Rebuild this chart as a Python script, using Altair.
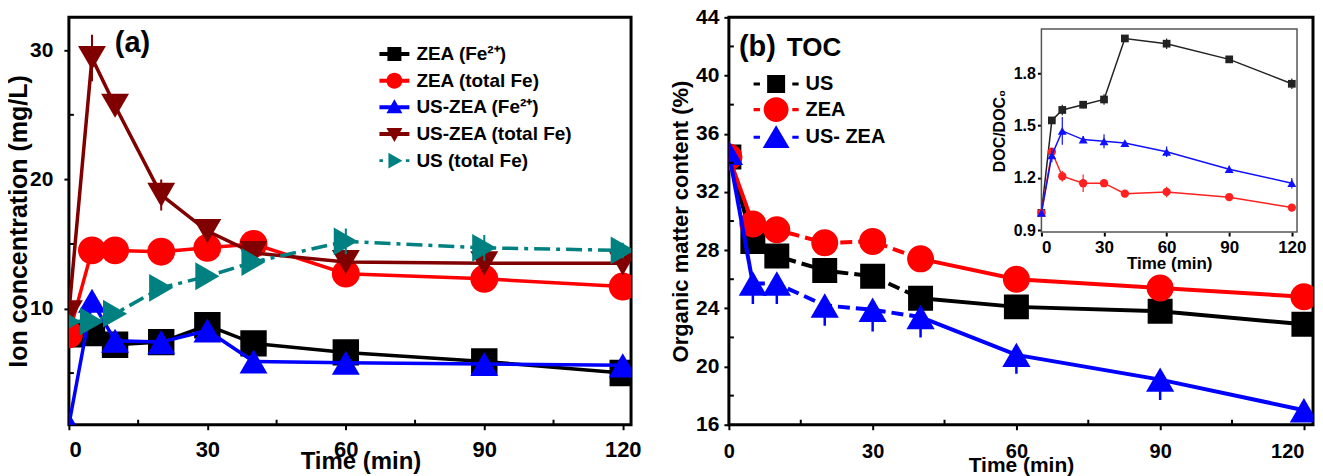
import altair as alt
import pandas as pd

FONT = "Liberation Sans"

# ---------------- shared time axis ----------------
TIME = [0, 5, 10, 20, 30, 40, 60, 90, 120]
TICKS_T = [0, 30, 60, 90, 120]
MINOR_T = [15, 45, 75, 105]

# ---------------- panel (a) ----------------
A_SERIES = ["ZEA (Fe²⁺)", "ZEA (total Fe)", "US-ZEA (Fe²⁺)", "US-ZEA (total Fe)", "US (total Fe)"]
A_COLORS = ["#000000", "#ff0000", "#0000ff", "#800000", "#008080"]
A_SHAPES = ["square", "circle", "triangle-up", "triangle-down", "triangle-right"]
A_ZEA_FE2 = [8.0, 8.1, 7.2, 7.4, 8.7, 7.3, 6.6, 5.9, 5.0]
A_ZEA_TOT = [8.0, 14.5, 14.5, 14.4, 14.7, 15.0, 12.7, 12.3, 11.7]
A_USZEA_FE2 = [1.0, 10.6, 7.5, 7.4, 8.3, 5.9, 5.8, 5.7, 5.6]
A_USZEA_TOT = [9.7, 29.4, 25.7, 18.8, 16.0, 14.3, 13.6, 13.5, 13.5]
A_US_TOT = [9.0, 9.0, 9.6, 11.6, 12.5, 13.6, 15.2, 14.7, 14.5]
A_ERR_ZEA_FE2 = [0, 0, 0, 0, 0, 0, 0, 0, 0]
A_ERR_ZEA_TOT = [0, 0, 0, 0, 0, 0, 0, 0, 0]
A_ERR_USZEA_FE2 = [0, 0, 0, 0, 0, 0, 0, 0, 0]
A_ERR_USZEA_TOT = [0, 1.8, 0.8, 1.2, 0.8, 0.4, 0.4, 0.4, 0.4]
A_ERR_US_TOT = [0, 0, 0, 0, 0, 0, 1.0, 1.0, 0.6]
A_TICKS_Y = [10, 20, 30]
A_MINOR_Y = [5, 15, 25]
A_LEGEND_PATHS = [
    "M-1.5,-0.2H1.5V0.2H-1.5Z M-0.7,-0.7H0.7V0.7H-0.7Z",
    "M-1.5,-0.2H1.5V0.2H-1.5Z M-0.8,0A0.8,0.8 0 1,1 0.8,0A0.8,0.8 0 1,1 -0.8,0Z",
    "M-1.5,-0.2H1.5V0.2H-1.5Z M0,-0.8L0.8,0.6L-0.8,0.6Z",
    "M-1.5,-0.2H1.5V0.2H-1.5Z M-0.8,-0.6H0.8L0,0.8Z",
    "M-1.5,-0.15H-1.15V0.15H-1.5Z M1.15,-0.15H1.5V0.15H1.15Z M-0.6,-0.8L0.8,0L-0.6,0.8Z",
]

# ---------------- panel (b) ----------------
B_SERIES = ["US", "ZEA", "US- ZEA"]
B_COLORS = ["#000000", "#ff0000", "#0000ff"]
B_SHAPES = ["square", "circle", "triangle-up"]
B_US = [34.4, 28.6, 27.6, 26.6, 26.2, 24.7, 24.1, 23.8, 22.9]
B_ZEA = [34.4, 29.8, 29.4, 28.5, 28.6, 27.4, 26.0, 25.4, 24.8]
B_USZEA = [34.7, 25.7, 25.7, 24.2, 23.9, 23.4, 20.8, 19.1, 17.0]
# lower error bars (the upper half is hidden under the markers)
B_ERR_US = [0, 0, 0, 0, 0, 0, 0, 0, 0]
B_ERR_ZEA = [0, 0, 0, 0, 0, 0, 0, 0, 0]
B_ERR_USZEA = [0, 1.4, 1.4, 1.4, 1.5, 1.4, 1.3, 1.4, 0]
B_TICKS_Y = [16, 20, 24, 28, 32, 36, 40, 44]
B_MINOR_Y = [18, 22, 26, 30, 34, 38, 42]
B_LEGEND_PATHS = [
    "M-1.88,-0.13H-1.35V0.13H-1.88Z M1.35,-0.13H1.88V0.13H1.35Z M-0.75,-0.75H0.75V0.75H-0.75Z",
    "M-1.88,-0.13H-1.35V0.13H-1.88Z M1.35,-0.13H1.88V0.13H1.35Z M-1.04,0A1.04,1.04 0 1,1 1.04,0A1.04,1.04 0 1,1 -1.04,0Z",
    "M-1.88,-0.13H-1.35V0.13H-1.88Z M1.35,-0.13H1.88V0.13H1.35Z M0,-1.0L1.12,0.9L-1.12,0.9Z",
]

# ---------------- inset (DOC/DOC0) ----------------
I_US = [1.0, 1.53, 1.59, 1.62, 1.65, 2.0, 1.97, 1.88, 1.74]
I_ZEA = [1.0, 1.35, 1.21, 1.17, 1.17, 1.11, 1.12, 1.09, 1.03]
I_USZEA = [1.0, 1.33, 1.47, 1.42, 1.41, 1.40, 1.35, 1.25, 1.17]
I_ERR_US = [0, 0.02, 0.03, 0.02, 0.03, 0.02, 0.03, 0.02, 0.03]
I_ERR_ZEA = [0, 0.02, 0.03, 0.05, 0.02, 0.02, 0.03, 0.01, 0.01]
I_ERR_USZEA = [0, 0.04, 0.08, 0.02, 0.04, 0.01, 0.03, 0.02, 0.03]
I_COLORS = ["#222222", "#ff2020", "#1010ff"]
I_TICKS_Y = [0.9, 1.2, 1.5, 1.8]
I_XDOM = [0, 122.5]
I_YDOM = [0.89, 2.054]

PANEL_LABELS = ["(a)", "(b)", "TOC"]

W_A, W_B, H = 563, 585, 408
I_X0, I_X1, I_Y0, I_Y1 = 313, 569, 215, 11.7   # inset placement inside panel (b), px


def long_df(series_vals, series_errs, upper=True):
    rows = []
    for k, (vals, errs) in enumerate(zip(series_vals, series_errs)):
        for t, v, e in zip(TIME, vals, errs):
            rows.append({"t": t, "v": v, "err": e, "lo": v - e, "hi": v + e if upper else v, "k": k})
    return pd.DataFrame(rows)


df_a = long_df([A_ZEA_FE2, A_ZEA_TOT, A_USZEA_FE2, A_USZEA_TOT, A_US_TOT],
               [A_ERR_ZEA_FE2, A_ERR_ZEA_TOT, A_ERR_USZEA_FE2, A_ERR_USZEA_TOT, A_ERR_US_TOT])
df_b = long_df([B_US, B_ZEA, B_USZEA], [B_ERR_US, B_ERR_ZEA, B_ERR_USZEA], upper=False)
df_i = long_df([I_US, I_ZEA, I_USZEA], [I_ERR_US, I_ERR_ZEA, I_ERR_USZEA])

# ================= panel (a) =================
xs_a = alt.Scale(domain=[0, 121.8], nice=False, zero=False)
ys_a = alt.Scale(domain=[1, 32.55], nice=False, zero=False)
ax_xa = alt.Axis(values=TICKS_T, title="Time (min)", labelFontSize=22, titleFontSize=24,
                 labelPadding=10, titleY=25, titleX=292, titleAlign="center", titleBaseline="top")
ax_ya = alt.Axis(values=A_TICKS_Y, title="Ion concentration (mg/L)", labelFontSize=21,
                 titleFontSize=25, labelPadding=11, titleX=-50, titleY=H / 2, titleAngle=270,
                 titleAlign="center", titleBaseline="middle")
x_a = alt.X("t:Q", scale=xs_a, axis=ax_xa)
y_a = alt.Y("v:Q", scale=ys_a, axis=ax_ya)
ylo_a = alt.Y("lo:Q", scale=ys_a, axis=ax_ya)

layers_a = []
for k, (col, shp) in enumerate(zip(A_COLORS, A_SHAPES)):
    base = alt.Chart(df_a).transform_filter(alt.FieldEqualPredicate(field="k", equal=k))
    line_kw = dict(color=col, strokeWidth=3.5, clip=True)
    if k == 4:
        line_kw["strokeDash"] = [16, 6, 4, 6]
    layers_a.append(base.mark_line(**line_kw).encode(x=x_a, y=y_a))
    layers_a.append(
        base.transform_filter("datum.err > 0").mark_rule(color=col, strokeWidth=2, clip=True)
        .encode(x=x_a, y=ylo_a, y2="hi:Q"))
    size = 780 if shp != "square" else 700
    layers_a.append(base.mark_point(shape=shp, filled=True, size=size, color=col,
                                    opacity=1, clip=True).encode(x=x_a, y=y_a))

# minor inward ticks
layers_a.append(alt.Chart(pd.DataFrame({"t": MINOR_T})).mark_rule(color="black", strokeWidth=2)
                .encode(x=x_a, y=alt.value(H), y2=alt.value(H - 5)))
layers_a.append(alt.Chart(pd.DataFrame({"v": A_MINOR_Y})).mark_rule(color="black", strokeWidth=2)
                .encode(y=y_a, x=alt.value(0), x2=alt.value(5)))

leg_a = alt.Legend(title=None, orient="none", legendX=316, legendY=26.7, symbolSize=400,
                   labelFontSize=19, labelFont=FONT, labelFontWeight="bold", labelColor="black",
                   labelOffset=12, rowPadding=6.7, padding=0, symbolStrokeWidth=0,
                   symbolOpacity=1, labelLimit=400)
layers_a.append(
    alt.Chart(df_a).transform_filter("false").mark_point(filled=True).encode(
        fill=alt.Fill("ser:N", scale=alt.Scale(domain=A_SERIES, range=A_COLORS), legend=leg_a),
        shape=alt.Shape("ser:N", scale=alt.Scale(domain=A_SERIES, range=A_LEGEND_PATHS), legend=leg_a),
    ))
layers_a.append(
    alt.Chart(pd.DataFrame({"label": [PANEL_LABELS[0]]})).mark_text(
        font=FONT, fontSize=29, fontWeight="bold", align="left", baseline="alphabetic", color="black")
    .encode(text="label:N", x=alt.value(46), y=alt.value(35)))

panel_a = alt.layer(*layers_a).properties(width=W_A, height=H)

# ================= panel (b) =================
xs_b = alt.Scale(domain=[0, 121.9], nice=False, zero=False)
ys_b = alt.Scale(domain=[16, 44], nice=False, zero=False)
ax_xb = alt.Axis(values=TICKS_T, title="Time (min)", labelFontSize=20, titleFontSize=21,
                 labelPadding=12, titleY=30, titleX=W_B / 2, titleAlign="center", titleBaseline="top",
                 labelAlign={"condition": {"test": "datum.value >= 120", "value": "right"},
                             "value": "center"})
ax_yb = alt.Axis(values=B_TICKS_Y, title="Organic matter content (%)", labelFontSize=21,
                 titleFontSize=22, labelPadding=5, titleX=-48, titleY=H / 2, titleAngle=270,
                 titleAlign="center", titleBaseline="middle")
x_b = alt.X("t:Q", scale=xs_b, axis=ax_xb)
y_b = alt.Y("v:Q", scale=ys_b, axis=ax_yb)
ylo_b = alt.Y("lo:Q", scale=ys_b, axis=ax_yb)

main_b = []
for k, (col, shp) in enumerate(zip(B_COLORS, B_SHAPES)):
    base = alt.Chart(df_b).transform_filter(alt.FieldEqualPredicate(field="k", equal=k))
    main_b.append(base.transform_filter(alt.FieldRangePredicate(field="t", range=[0, 5]))
                  .mark_line(color=col, strokeWidth=4, clip=True).encode(x=x_b, y=y_b))
    main_b.append(base.transform_filter(alt.FieldRangePredicate(field="t", range=[5, 40]))
                  .mark_line(color=col, strokeWidth=4, clip=True, strokeDash=[12, 6])
                  .encode(x=x_b, y=y_b))
    main_b.append(base.transform_filter(alt.FieldRangePredicate(field="t", range=[40, 120]))
                  .mark_line(color=col, strokeWidth=4, clip=True).encode(x=x_b, y=y_b))
    main_b.append(
        base.transform_filter("datum.err > 0").mark_rule(color=col, strokeWidth=2.5, clip=True)
        .encode(x=x_b, y=ylo_b, y2="hi:Q"))
    size = {"square": 625, "circle": 730, "triangle-up": 800}[shp]
    main_b.append(base.mark_point(shape=shp, filled=True, size=size, color=col,
                                  opacity=1, clip=True).encode(x=x_b, y=y_b))

main_b.append(alt.Chart(pd.DataFrame({"t": MINOR_T})).mark_rule(color="black", strokeWidth=2)
              .encode(x=x_b, y=alt.value(H), y2=alt.value(H - 5)))
main_b.append(alt.Chart(pd.DataFrame({"v": B_MINOR_Y})).mark_rule(color="black", strokeWidth=2)
              .encode(y=y_b, x=alt.value(0), x2=alt.value(5)))

leg_b = alt.Legend(title=None, orient="none", legendX=35.3, legendY=54.7, symbolSize=576,
                   labelFontSize=20, labelFont=FONT, labelFontWeight="bold", labelColor="black",
                   labelOffset=17.4, rowPadding=2.7, padding=0, symbolStrokeWidth=0,
                   symbolOpacity=1, labelLimit=400)
main_b.append(
    alt.Chart(df_b).transform_filter("false").mark_point(filled=True).encode(
        fill=alt.Fill("ser:N", scale=alt.Scale(domain=B_SERIES, range=B_COLORS), legend=leg_b),
        shape=alt.Shape("ser:N", scale=alt.Scale(domain=B_SERIES, range=B_LEGEND_PATHS), legend=leg_b),
    ))
main_b.append(
    alt.Chart(pd.DataFrame({"label": [PANEL_LABELS[1]]})).mark_text(
        font=FONT, fontSize=29, fontWeight="bold", align="left", baseline="alphabetic", color="black")
    .encode(text="label:N", x=alt.value(10), y=alt.value(38.3)))
main_b.append(
    alt.Chart(pd.DataFrame({"label": [PANEL_LABELS[2]]})).mark_text(
        font=FONT, fontSize=26, fontWeight="bold", align="left", baseline="alphabetic", color="black")
    .encode(text="label:N", x=alt.value(58), y=alt.value(38.3)))

# ---- inset ----
xs_i = alt.Scale(domain=I_XDOM, range=[I_X0, I_X1], nice=False, zero=False)
ys_i = alt.Scale(domain=I_YDOM, range=[I_Y0, I_Y1], nice=False, zero=False)
ax_xi = alt.Axis(orient="bottom", offset=-(H - I_Y0), values=TICKS_T, title="Time (min)",
                 labelFontSize=17, titleFontSize=17, tickSize=4, labelPadding=4, titleY=24,
                 titleX=(I_X0 + I_X1) / 2, titleAlign="center", titleBaseline="top")
ax_yi = alt.Axis(orient="left", offset=-I_X0, values=I_TICKS_Y, format=".1f", title="DOC/DOC₀",
                 labelFontSize=16, titleFontSize=16, tickSize=4, labelPadding=2, titleX=-42,
                 titleY=(I_Y0 + I_Y1) / 2, titleAngle=270, titleAlign="center",
                 titleBaseline="middle")
x_i = alt.X("t:Q", scale=xs_i, axis=ax_xi)
y_i = alt.Y("v:Q", scale=ys_i, axis=ax_yi)
ylo_i = alt.Y("lo:Q", scale=ys_i, axis=ax_yi)

inset = [
    alt.Chart(pd.DataFrame({"t": [0]})).mark_rect(fill="white", stroke="#555555", strokeWidth=1.5)
    .encode(x=alt.X(datum=I_XDOM[0], scale=xs_i, axis=ax_xi, type="quantitative"),
            x2=alt.X2(datum=I_XDOM[1]),
            y=alt.Y(datum=I_YDOM[0], scale=ys_i, axis=ax_yi, type="quantitative"),
            y2=alt.Y2(datum=I_YDOM[1]))
]
for k, (col, shp) in enumerate(zip(I_COLORS, B_SHAPES)):
    base = alt.Chart(df_i).transform_filter(alt.FieldEqualPredicate(field="k", equal=k))
    inset.append(base.mark_line(color=col, strokeWidth=1.5).encode(x=x_i, y=y_i))
    inset.append(base.transform_filter("datum.err > 0").mark_rule(color=col, strokeWidth=1.2)
                 .encode(x=x_i, y=ylo_i, y2="hi:Q"))
    size = {"square": 60, "circle": 70, "triangle-up": 80}[shp]
    inset.append(base.mark_point(shape=shp, filled=True, size=size, color=col, opacity=1)
                 .encode(x=x_i, y=y_i))

panel_b = alt.layer(alt.layer(*main_b), alt.layer(*inset)).resolve_scale(
    x="independent", y="independent").properties(width=W_B, height=H)

chart = alt.hconcat(panel_a, panel_b, spacing=98, bounds="flush").resolve_scale(
    fill="independent", shape="independent"
).resolve_legend(fill="independent", shape="independent").properties(
    padding={"left": -3, "top": -4, "right": 0, "bottom": 0}
).configure_view(stroke="black", strokeWidth=3).configure_axis(
    grid=False, domain=False, tickColor="black", tickWidth=2, tickSize=5,
    labelColor="black", titleColor="black", labelFont=FONT, titleFont=FONT,
    labelFontWeight="bold", titleFontWeight="bold"
)

chart.save("out.html", embed_options={"renderer": "svg", "actions": False})
